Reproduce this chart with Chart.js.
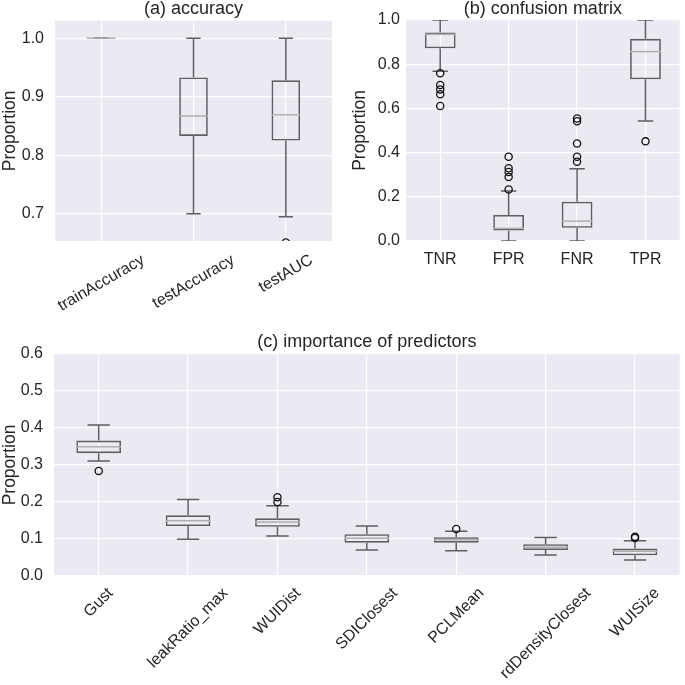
<!DOCTYPE html>
<html>
<head>
<meta charset="utf-8">
<script src="https://cdn.jsdelivr.net/npm/chart.js@4.4.1/dist/chart.umd.min.js"></script>
<style>
body { margin: 0; background: #fff; }
#wrap { position: relative; width: 685px; height: 685px; }
canvas { position: absolute; }
</style>
</head>
<body>
<div id="wrap">
  <canvas id="chartA" width="340" height="330" style="left:0;top:0;width:340px;height:330px"></canvas>
  <canvas id="chartB" width="345" height="330" style="left:340px;top:0;width:345px;height:330px"></canvas>
  <canvas id="chartC" width="685" height="355" style="left:0;top:330px;width:685px;height:355px"></canvas>
</div>
<script>
// (a) accuracy
const accLabels = ["trainAccuracy", "testAccuracy", "testAUC"];
const accMin = [1.0, 0.700, 0.695];
const accQ1 = [1.0, 0.833, 0.825];
const accMedian = [1.0, 0.867, 0.869];
const accQ3 = [1.0, 0.933, 0.928];
const accMax = [1.0, 1.0, 1.0];
const accOutliers = [[], [], [0.651]];
const accTicks = [0.7, 0.8, 0.9, 1.0];

// (b) confusion matrix
const cmLabels = ["TNR", "FPR", "FNR", "TPR"];
const cmMin = [0.768, 0.0, 0.0, 0.543];
const cmQ1 = [0.872, 0.047, 0.060, 0.732];
const cmMedian = [0.935, 0.057, 0.090, 0.857];
const cmQ3 = [0.944, 0.118, 0.178, 0.915];
const cmMax = [1.0, 0.226, 0.327, 1.0];
const cmOutliers = [
    [0.759, 0.706, 0.686, 0.664, 0.611],
    [0.381, 0.329, 0.312, 0.290, 0.233],
    [0.554, 0.542, 0.441, 0.381, 0.359],
    [0.451]
];
const cmTicks = [0.0, 0.2, 0.4, 0.6, 0.8, 1.0];

// (c) importance of predictors
const impLabels = ["Gust", "leakRatio_max", "WUIDist", "SDIClosest", "PCLMean", "rdDensityClosest", "WUISize"];
const impMin = [0.311, 0.099, 0.108, 0.070, 0.068, 0.057, 0.043];
const impQ1 = [0.332, 0.135, 0.133, 0.090, 0.090, 0.070, 0.056];
const impMedian = [0.349, 0.149, 0.146, 0.102, 0.098, 0.078, 0.067];
const impQ3 = [0.366, 0.164, 0.156, 0.113, 0.105, 0.086, 0.074];
const impMax = [0.408, 0.207, 0.190, 0.135, 0.121, 0.104, 0.095];
const impOutliers = [[0.284], [], [0.213, 0.200], [], [0.127], [], [0.106, 0.103]];
const impTicks = [0.0, 0.1, 0.2, 0.3, 0.4, 0.5, 0.6];

const FONT = "'Liberation Sans', Arial, sans-serif";
const TEXT = "#262626";

// seaborn-like grey panel behind the plot area
const panelBg = {
    id: "panelBg",
    beforeDraw(chart) {
        const a = chart.chartArea, ctx = chart.ctx;
        ctx.save();
        ctx.fillStyle = "#EAEAF2";
        ctx.fillRect(a.left, a.top, a.right - a.left, a.bottom - a.top);
        ctx.restore();
    }
};

// whiskers, caps and medians drawn from the box dataset's elements
const boxParts = {
    id: "boxParts",
    beforeDatasetsDraw(chart) {
        const s = chart.config.options.boxStats;
        const meta = chart.getDatasetMeta(0);
        const y = chart.scales.y, ctx = chart.ctx;
        const a = chart.chartArea;
        ctx.save();
        // keep caps at the axis limits clipped like matplotlib does
        ctx.beginPath();
        ctx.rect(a.left, a.top, a.right - a.left, a.bottom - a.top);
        ctx.clip();
        ctx.strokeStyle = "#5f5f5f";
        ctx.lineWidth = 1.5;
        meta.data.forEach((el, i) => {
            const half = el.width / 4;
            [[s.q3[i], s.max[i]], [s.q1[i], s.min[i]]].forEach(([from, to]) => {
                ctx.beginPath();
                ctx.moveTo(el.x, y.getPixelForValue(from));
                ctx.lineTo(el.x, y.getPixelForValue(to));
                ctx.moveTo(el.x - half, y.getPixelForValue(to));
                ctx.lineTo(el.x + half, y.getPixelForValue(to));
                ctx.stroke();
            });
        });
        ctx.restore();
    },
    afterDatasetsDraw(chart) {
        const s = chart.config.options.boxStats;
        const meta = chart.getDatasetMeta(0);
        const y = chart.scales.y, ctx = chart.ctx;
        ctx.save();
        ctx.strokeStyle = "#b0b0b0";
        ctx.lineWidth = 1.5;
        meta.data.forEach((el, i) => {
            const py = y.getPixelForValue(s.median[i]);
            ctx.beginPath();
            ctx.moveTo(el.x - el.width / 2, py);
            ctx.lineTo(el.x + el.width / 2, py);
            ctx.stroke();
        });
        ctx.restore();
    }
};

// centred (matplotlib style) category labels and panel title
const textParts = {
    id: "textParts",
    afterDraw(chart) {
        const o = chart.config.options.textOpts;
        const a = chart.chartArea, ctx = chart.ctx;
        const x = chart.scales.x;
        ctx.save();
        ctx.fillStyle = TEXT;
        ctx.font = "18px " + FONT;
        ctx.textAlign = "center";
        ctx.textBaseline = "middle";
        ctx.fillText(o.title, (a.left + a.right) / 2, o.titleY);

        ctx.font = "16px " + FONT;
        const th = o.rotation * Math.PI / 180;
        chart.data.labels.forEach((lab, i) => {
            const w = ctx.measureText(lab).width;
            const h = 16;
            const bh = w * Math.sin(th) + h * Math.cos(th);
            const px = x.getPixelForValue(i);
            const py = a.bottom + o.labelGap + bh / 2;
            ctx.save();
            ctx.translate(px, py);
            ctx.rotate(-th);
            ctx.fillText(lab, 0, 0);
            ctx.restore();
        });
        ctx.restore();
    }
};

function makeBoxChart(id, p) {
    const outPts = [];
    p.outliers.forEach((list, i) => list.forEach(v => outPts.push({ x: p.labels[i], y: v })));

    return new Chart(document.getElementById(id).getContext("2d"), {
        type: "bar",
        data: {
            labels: p.labels,
            datasets: [
                {
                    type: "bar",
                    data: p.q1.map((v, i) => [v, p.q3[i]]),
                    backgroundColor: "rgba(0,0,0,0)",
                    borderColor: "#5f5f5f",
                    borderWidth: 1.6,
                    borderSkipped: false,
                    categoryPercentage: 1,
                    barPercentage: p.boxFrac
                },
                {
                    type: "line",
                    data: outPts,
                    showLine: false,
                    pointStyle: "circle",
                    pointRadius: 3.6,
                    pointBorderWidth: 1.3,
                    pointBorderColor: "#111111",
                    pointBackgroundColor: "rgba(0,0,0,0)",
                    clip: 0
                }
            ]
        },
        options: {
            responsive: false,
            animation: false,
            events: [],
            boxStats: { min: p.min, q1: p.q1, median: p.median, q3: p.q3, max: p.max },
            textOpts: { title: p.title, titleY: p.titleY, rotation: p.rotation, labelGap: p.labelGap },
            layout: { padding: p.padding },
            plugins: {
                legend: { display: false },
                tooltip: { enabled: false },
                title: { display: false }
            },
            scales: {
                x: {
                    grid: { color: "#ffffff", lineWidth: 1.2, offset: false, drawTicks: false },
                    border: { display: false },
                    ticks: { display: false },
                    afterFit: scale => { scale.height = p.xAxisHeight; }
                },
                y: {
                    min: p.yMin,
                    max: p.yMax,
                    grid: { color: "#ffffff", lineWidth: 1.2, drawTicks: false },
                    border: { display: false },
                    afterBuildTicks: scale => { scale.ticks = p.ticks.map(v => ({ value: v })); },
                    ticks: {
                        color: TEXT,
                        padding: p.tickPad,
                        font: { family: FONT, size: 16 },
                        callback: v => Number(v).toFixed(1)
                    },
                    title: {
                        display: true,
                        text: "Proportion",
                        color: TEXT,
                        padding: 0,
                        font: { family: FONT, size: 17.5 }
                    },
                    afterFit: scale => { scale.width = p.yAxisWidth; }
                }
            }
        },
        plugins: [panelBg, boxParts, textParts]
    });
}

makeBoxChart("chartA", {
    labels: accLabels, min: accMin, q1: accQ1, median: accMedian, q3: accQ3, max: accMax,
    outliers: accOutliers, ticks: accTicks, yMin: 0.6535, yMax: 1.03,
    title: "(a) accuracy", titleY: 9, rotation: 30, labelGap: 11,
    boxFrac: 0.31, padding: { left: 0, right: 8, top: 20, bottom: 0 },
    yAxisWidth: 55, xAxisHeight: 89, tickPad: 11
});

makeBoxChart("chartB", {
    labels: cmLabels, min: cmMin, q1: cmQ1, median: cmMedian, q3: cmQ3, max: cmMax,
    outliers: cmOutliers, ticks: cmTicks, yMin: 0, yMax: 1.0,
    title: "(b) confusion matrix", titleY: 9, rotation: 0, labelGap: 11,
    boxFrac: 0.45, padding: { left: 10, right: 2, top: 20, bottom: 0 },
    yAxisWidth: 56, xAxisHeight: 89, tickPad: 6
});

makeBoxChart("chartC", {
    labels: impLabels, min: impMin, q1: impQ1, median: impMedian, q3: impQ3, max: impMax,
    outliers: impOutliers, ticks: impTicks, yMin: 0, yMax: 0.6,
    title: "(c) importance of predictors", titleY: 12, rotation: 45, labelGap: 9,
    boxFrac: 0.5, padding: { left: 0, right: 2, top: 24, bottom: 0 },
    yAxisWidth: 54, xAxisHeight: 109, tickPad: 11
});
</script>
</body>
</html>
